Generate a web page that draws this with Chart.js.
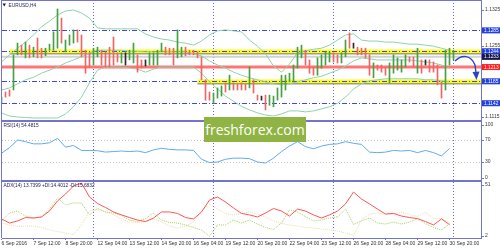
<!DOCTYPE html>
<html>
<head>
<meta charset="utf-8">
<title>EURUSD,H4</title>
<script src="https://cdn.jsdelivr.net/npm/chart.js@4.4.1/dist/chart.umd.min.js"></script>
<style>
  html, body { margin: 0; padding: 0; background: #fff; }
  #wrap { position: relative; width: 500px; height: 250px; overflow: hidden; background: #fff; }
  #wrap canvas { position: absolute; left: 0; }
  .sep { position: absolute; left: 1px; width: 481px; height: 2px; background: #7474cf; }
  #logo { position: absolute; left: 204px; top: 117px; width: 102px; height: 25px; background: #8fb443;
          color: #fff; font: 14px "Open Sans", sans-serif; line-height: 25px; text-align: center; }
  #arrow { position: absolute; left: 0; top: 0; }
</style>
</head>
<body>
<div id="wrap">
  <canvas id="priceChart" width="500" height="120" style="top:0"></canvas>
  <canvas id="rsiChart" width="500" height="58" style="top:122px"></canvas>
  <canvas id="adxChart" width="500" height="68" style="top:182px"></canvas>
  <div class="sep" style="top:120px"></div>
  <div class="sep" style="top:180px"></div>
  <div id="logo">freshforex.com</div>
  <svg id="arrow" width="500" height="250">
    <path d="M455 61 C 462 54, 471 55, 475 65 L 476 73" fill="none" stroke="#2a44c8" stroke-width="1.4"/>
    <path d="M472.5 72 L 476.5 80 L 479.5 71.5 Z" fill="#2a44c8"/>
  </svg>
</div>
<script>
const FONT = '"Liberation Sans", Arial, sans-serif';
const FRAME = '#7474cf';

// H4 bars, 6 Sep 04:00 .. 3 Oct 00:00
const barHigh = [
  1.1154, 1.1164, 1.1168, 1.1237, 1.1260, 1.1256, 1.1262, 1.1256, 1.1252, 1.1270,
  1.1250, 1.1250, 1.1258, 1.1282, 1.1327, 1.1309, 1.1266, 1.1276, 1.1286, 1.1286,
  1.1276, 1.1246, 1.1241, 1.1250, 1.1252, 1.1246, 1.1243, 1.1252, 1.1272, 1.1241,
  1.1241, 1.1241, 1.1246, 1.1260, 1.1237, 1.1227, 1.1227, 1.1241, 1.1241, 1.1246,
  1.1260, 1.1252, 1.1250, 1.1250, 1.1286, 1.1252, 1.1252, 1.1246, 1.1246, 1.1243,
  1.1233, 1.1188, 1.1164, 1.1162, 1.1172, 1.1176, 1.1182, 1.1197, 1.1182, 1.1180,
  1.1182, 1.1180, 1.1213, 1.1188, 1.1158, 1.1156, 1.1158, 1.1158, 1.1156, 1.1172,
  1.1197, 1.1197, 1.1201, 1.1217, 1.1252, 1.1256, 1.1246, 1.1227, 1.1213, 1.1231,
  1.1237, 1.1243, 1.1243, 1.1241, 1.1237, 1.1241, 1.1266, 1.1280, 1.1260, 1.1252,
  1.1250, 1.1250, 1.1237, 1.1221, 1.1217, 1.1217, 1.1213, 1.1221, 1.1237, 1.1231,
  1.1227, 1.1237, 1.1233, 1.1233, 1.1250, 1.1227, 1.1227, 1.1227, 1.1223, 1.1217,
  1.1184, 1.1246, 1.1250, 1.1246
];
const barLow = [
  1.1142, 1.1154, 1.1156, 1.1168, 1.1237, 1.1237, 1.1231, 1.1231, 1.1233, 1.1231,
  1.1231, 1.1235, 1.1246, 1.1246, 1.1250, 1.1260, 1.1243, 1.1256, 1.1260, 1.1262,
  1.1233, 1.1201, 1.1213, 1.1217, 1.1233, 1.1217, 1.1213, 1.1213, 1.1217, 1.1223,
  1.1221, 1.1217, 1.1227, 1.1221, 1.1203, 1.1211, 1.1215, 1.1217, 1.1217, 1.1217,
  1.1243, 1.1237, 1.1237, 1.1217, 1.1231, 1.1233, 1.1235, 1.1237, 1.1237, 1.1231,
  1.1188, 1.1148, 1.1148, 1.1142, 1.1152, 1.1156, 1.1164, 1.1168, 1.1168, 1.1168,
  1.1168, 1.1168, 1.1172, 1.1162, 1.1148, 1.1148, 1.1129, 1.1138, 1.1135, 1.1148,
  1.1154, 1.1168, 1.1184, 1.1184, 1.1211, 1.1231, 1.1217, 1.1201, 1.1197, 1.1197,
  1.1211, 1.1217, 1.1223, 1.1223, 1.1221, 1.1221, 1.1233, 1.1250, 1.1250, 1.1237,
  1.1237, 1.1231, 1.1197, 1.1192, 1.1207, 1.1203, 1.1197, 1.1182, 1.1201, 1.1207,
  1.1203, 1.1213, 1.1223, 1.1213, 1.1201, 1.1201, 1.1217, 1.1203, 1.1203, 1.1178,
  1.1152, 1.1168, 1.1217, 1.1227
];
// 1 = up bar, -1 = down bar, 0 = unchanged
const barDir = [
  1, -1, -1, 1, 1, -1, 1, -1, 1, -1,
  -1, 1, 1, 1, 1, -1, 1, 1, 1, -1,
  -1, -1, -1, 1, 1, -1, -1, -1, -1, -1,
  1, 0, 1, 1, -1, -1, 0, 1, 1, 1,
  1, -1, -1, -1, 1, 1, -1, -1, -1, -1,
  -1, -1, -1, 1, 1, 1, -1, 1, -1, -1,
  -1, -1, 1, -1, -1, 0, -1, 1, 1, 1,
  1, 1, 1, 1, 1, 1, -1, -1, -1, 1,
  1, 1, 1, -1, -1, 1, 1, -1, 0, -1,
  -1, -1, -1, 1, -1, -1, -1, 1, 1, 1,
  1, 1, -1, -1, 1, -1, 0, -1, -1, -1,
  -1, 1, 1, 1
];

// indicators, read every 2nd bar
const SAMPLE_STEP = 2;
const bbUpper = [
  1.1223, 1.1237, 1.1250, 1.1262, 1.1276, 1.1292, 1.1303, 1.1315, 1.1323, 1.1325,
  1.1319, 1.1309, 1.1290, 1.1288, 1.1288, 1.1288, 1.1288, 1.1288, 1.1278, 1.1272,
  1.1268, 1.1266, 1.1262, 1.1260, 1.1256, 1.1264, 1.1276, 1.1284, 1.1286, 1.1284,
  1.1282, 1.1266, 1.1254, 1.1239, 1.1215, 1.1203, 1.1219, 1.1241, 1.1245, 1.1248,
  1.1250, 1.1256, 1.1266, 1.1276, 1.1278, 1.1266, 1.1264, 1.1264, 1.1262, 1.1262,
  1.1260, 1.1258, 1.1258, 1.1256, 1.1254, 1.1250, 1.1246
];
const bbMiddle = [
  1.1168, 1.1172, 1.1180, 1.1188, 1.1193, 1.1201, 1.1207, 1.1213, 1.1221, 1.1227,
  1.1233, 1.1241, 1.1246, 1.1246, 1.1246, 1.1246, 1.1244, 1.1244, 1.1243, 1.1243,
  1.1243, 1.1243, 1.1243, 1.1243, 1.1239, 1.1235, 1.1225, 1.1217, 1.1211, 1.1203,
  1.1197, 1.1192, 1.1188, 1.1184, 1.1180, 1.1178, 1.1180, 1.1184, 1.1188, 1.1192,
  1.1195, 1.1201, 1.1207, 1.1215, 1.1225, 1.1231, 1.1229, 1.1227, 1.1227, 1.1227,
  1.1227, 1.1227, 1.1225, 1.1223, 1.1221, 1.1217, 1.1211
];
const bbLower = [
  1.1123, 1.1117, 1.1115, 1.1114, 1.1113, 1.1113, 1.1113, 1.1113, 1.1121, 1.1135,
  1.1154, 1.1182, 1.1207, 1.1213, 1.1213, 1.1213, 1.1211, 1.1209, 1.1203, 1.1209,
  1.1213, 1.1213, 1.1213, 1.1213, 1.1213, 1.1201, 1.1184, 1.1170, 1.1156, 1.1146,
  1.1136, 1.1129, 1.1123, 1.1119, 1.1117, 1.1121, 1.1127, 1.1127, 1.1125, 1.1127,
  1.1131, 1.1135, 1.1142, 1.1154, 1.1170, 1.1180, 1.1186, 1.1188, 1.1190, 1.1190,
  1.1190, 1.1190, 1.1190, 1.1188, 1.1188, 1.1186, 1.1184
];
const rsiValues = [
  46, 56, 70, 67, 63, 63, 65, 73, 57, 60,
  51, 51, 50.5, 48, 49, 50, 49, 50, 47, 52,
  55, 53, 52, 52, 51, 35, 29, 30, 35, 37,
  37, 36, 30, 28, 37, 49, 59, 67, 58, 54,
  59, 62, 63, 67, 64, 62, 48, 47, 48, 51,
  50, 51, 47, 51, 47, 41, 54.5
];
const adxValues = [
  18.7, 15.1, 16.9, 19.9, 19.5, 20.4, 25.6, 34.4, 40.5, 47.5,
  50.0, 37.9, 32.2, 28.7, 24.8, 22.2, 19.9, 17.7, 16.4, 19.5,
  24.8, 24.8, 23.5, 19.9, 18.7, 24.8, 35.2, 37.9, 33.5, 28.3,
  23.5, 22.2, 20.4, 23.9, 27.8, 25.6, 21.2, 27.3, 25.6, 22.2,
  19.5, 22.2, 25.6, 31.8, 42.2, 36.1, 31.8, 27.3, 23.0, 23.5,
  21.2, 19.9, 19.0, 16.4, 13.4, 18.7, 13.7
];
const plusDI = [
  16.9, 23.9, 25.6, 21.2, 19.5, 20.4, 27.3, 37.0, 30.9, 32.6,
  32.6, 22.2, 27.8, 24.8, 23.9, 21.7, 17.7, 16.4, 19.0, 23.9,
  17.7, 15.6, 15.1, 13.4, 11.2, 9.0, 3.5, 13.4, 13.4, 17.7,
  15.1, 17.7, 14.2, 11.2, 9.4, 15.1, 26.5, 24.8, 20.8, 16.9,
  17.7, 19.5, 20.4, 27.3, 13.8, 16.9, 19.5, 15.1, 14.2, 16.0,
  14.2, 16.0, 18.7, 14.7, 11.2, 9.0, 14.4
];
const minusDI = [
  15.1, 13.4, 12.1, 12.5, 12.5, 11.2, 9.0, 7.6, 6.3, 5.0,
  13.4, 25.6, 27.3, 24.8, 22.5, 18.7, 16.0, 15.6, 16.0, 18.7,
  16.0, 12.5, 10.8, 12.1, 16.0, 25.6, 31.8, 27.3, 23.5, 22.2,
  23.5, 24.8, 23.0, 20.4, 16.9, 14.7, 13.4, 12.5, 11.2, 10.8,
  9.9, 9.0, 8.1, 6.3, 4.5, 17.7, 23.0, 23.9, 22.5, 23.0,
  24.8, 22.5, 20.8, 24.3, 19.0, 19.0, 15.7
];

// time axis
const timeLabels = [
  '6 Sep 2016', '7 Sep 12:00', '8 Sep 20:00', '12 Sep 04:00', '13 Sep 12:00',
  '14 Sep 20:00', '16 Sep 04:00', '19 Sep 12:00', '20 Sep 20:00', '22 Sep 04:00',
  '23 Sep 12:00', '26 Sep 20:00', '28 Sep 04:00', '29 Sep 12:00', '30 Sep 20:00'
];
const LABEL_STEP = 8;
const weekStartBars = [23, 53, 83, 113];

// price axis / chart objects
const priceTicks = [1.1325, 1.1255, 1.1115];
const tagPrices = [1.1285, 1.1244, 1.1233, 1.1213, 1.1185, 1.1142];
const tagColors = ['#2340d8', '#2340d8', '#16164a', '#ff1f1f', '#2340d8', '#2340d8'];
const levelLines = [1.1285, 1.1244, 1.1185, 1.1142];
const zonePrices = [1.1244, 1.1185];
const zoneStartBars = [2, 49];
const redLevel = 1.1213;
const greyLevel = 1.1233;
const rsiTicks = [100, 70, 30, 0];
const rsiLevels = [70, 30];
const adxTicks = [51, 2];

// x range: 4 px per bar across the 479 px plot
const X_MIN = 0.125, X_MAX = 119.875;
const PRICE_MIN = 1.11091, PRICE_MAX = 1.13446;

const sampled = arr => arr.map((v, k) => ({ x: k * SAMPLE_STEP, y: v }));

function xScale(display) {
  return { type: 'linear', min: X_MIN, max: X_MAX, offset: false, display: display, grid: { offset: false } };
}

function baseOptions(yMin, yMax) {
  return {
    responsive: false,
    animation: false,
    events: [],
    layout: { padding: { left: 2, right: 19, top: 0, bottom: 0 } },
    plugins: { legend: { display: false }, tooltip: { enabled: false } },
    scales: {
      x: xScale(false),
      y: { type: 'linear', min: yMin, max: yMax, display: false }
    }
  };
}

function hLine(ctx, y, x0, x1, color, width, dash) {
  ctx.save();
  ctx.strokeStyle = color;
  ctx.lineWidth = width;
  ctx.setLineDash(dash || []);
  ctx.beginPath();
  ctx.moveTo(x0, y);
  ctx.lineTo(x1, y);
  ctx.stroke();
  ctx.restore();
}

function drawWeekLines(chart) {
  const { ctx, chartArea: a, scales: { x } } = chart;
  ctx.save();
  ctx.strokeStyle = '#6a6ac4';
  ctx.lineWidth = 1;
  ctx.setLineDash([1, 2]);
  weekStartBars.forEach(b => {
    const px = x.getPixelForValue(b);
    ctx.beginPath();
    ctx.moveTo(px, a.top);
    ctx.lineTo(px, a.bottom);
    ctx.stroke();
  });
  ctx.restore();
}

function drawFrame(chart, top) {
  const { ctx, chartArea: a } = chart;
  ctx.save();
  ctx.strokeStyle = FRAME;
  ctx.lineWidth = 1;
  ctx.beginPath();
  ctx.moveTo(1.5, a.top);
  ctx.lineTo(1.5, a.bottom);
  ctx.moveTo(481.5, a.top);
  ctx.lineTo(481.5, a.bottom);
  if (top) {
    ctx.moveTo(1, 0.5);
    ctx.lineTo(482, 0.5);
  }
  ctx.stroke();
  ctx.restore();
}

function axisLabel(chart, value, text) {
  const { ctx, chartArea: a, scales: { y } } = chart;
  let py = y.getPixelForValue(value);
  py = Math.min(Math.max(py, a.top + 2.5), a.bottom - 2.5);
  ctx.save();
  ctx.strokeStyle = FRAME;
  ctx.beginPath();
  ctx.moveTo(481, Math.round(py) + 0.5);
  ctx.lineTo(484, Math.round(py) + 0.5);
  ctx.stroke();
  ctx.fillStyle = '#3a3a3a';
  ctx.font = '5px ' + FONT;
  ctx.textBaseline = 'middle';
  ctx.fillText(text, 485, py);
  ctx.restore();
}

function header(ctx, text, x, y) {
  ctx.save();
  ctx.fillStyle = '#1c1c50';
  ctx.font = '4.8px ' + FONT;
  ctx.textBaseline = 'middle';
  ctx.fillText(text, x, y);
  ctx.restore();
}

// ---------- price panel ----------
const priceObjects = {
  id: 'priceObjects',
  beforeDatasetsDraw(chart) {
    const { ctx, chartArea: a, scales: { x, y } } = chart;
    drawWeekLines(chart);
    hLine(ctx, y.getPixelForValue(greyLevel), a.left, a.right, '#d2d2d2', 2);
    hLine(ctx, y.getPixelForValue(redLevel), a.left, a.right, '#ff7474', 3);
    zonePrices.forEach((p, i) => {
      const py = y.getPixelForValue(p);
      const x0 = x.getPixelForValue(zoneStartBars[i]);
      hLine(ctx, py + 2.5, x0, a.right, '#9c9c9c', 1.5);
      hLine(ctx, py, x0, a.right, '#ffff00', 3.5);
    });
    levelLines.forEach(p => {
      hLine(ctx, Math.round(y.getPixelForValue(p)) + 0.5, a.left, a.right, '#4646dc', 1, [5, 2, 1, 2]);
    });
  },
  afterDraw(chart) {
    const { ctx, scales: { y } } = chart;
    drawFrame(chart, true);
    priceTicks.forEach(v => axisLabel(chart, v, v.toFixed(4)));
    ctx.save();
    ctx.font = '4.8px ' + FONT;
    ctx.textBaseline = 'middle';
    tagPrices.forEach((p, i) => {
      const py = y.getPixelForValue(p);
      ctx.fillStyle = tagColors[i];
      ctx.fillRect(482, py - 3, 18, 6);
      ctx.fillStyle = '#ffffff';
      ctx.fillText(p.toFixed(4), 484, py + 0.2);
    });
    // window title with the small drop-down mark
    ctx.fillStyle = '#1c1c50';
    ctx.beginPath();
    ctx.moveTo(2.5, 3.5);
    ctx.lineTo(6, 3.5);
    ctx.lineTo(4.25, 6.5);
    ctx.closePath();
    ctx.fill();
    ctx.restore();
    header(ctx, 'EURUSD,H4', 8.5, 5.2);
  }
};

const priceOpts = baseOptions(PRICE_MIN, PRICE_MAX);
priceOpts.scales.x = xScale(false);

new Chart(document.getElementById('priceChart'), {
  type: 'bar',
  data: {
    datasets: [
      {
        type: 'bar',
        data: barHigh.map((h, i) => ({ x: i, y: [barLow[i], h] })),
        backgroundColor: barDir.map(d => d > 0 ? '#43a043' : d < 0 ? '#f06464' : '#2a2a2a'),
        borderWidth: 0,
        barThickness: 1,
        clip: { left: 1, top: 0, right: 0, bottom: 0 },
        order: 0
      },
      { type: 'line', data: sampled(bbUpper), borderColor: '#8ed3a8', borderWidth: 1, pointRadius: 0, order: 1 },
      { type: 'line', data: sampled(bbMiddle), borderColor: '#8ed3a8', borderWidth: 1, pointRadius: 0, order: 1 },
      { type: 'line', data: sampled(bbLower), borderColor: '#8ed3a8', borderWidth: 1, pointRadius: 0, order: 1 }
    ]
  },
  options: priceOpts,
  plugins: [priceObjects]
});

// ---------- RSI panel ----------
const rsiDecor = {
  id: 'rsiDecor',
  beforeDatasetsDraw(chart) {
    const { ctx, chartArea: a, scales: { y } } = chart;
    drawWeekLines(chart);
    rsiLevels.forEach(v => {
      hLine(ctx, Math.round(y.getPixelForValue(v)) + 0.5, a.left, a.right, '#c4c4c4', 1, [1, 2]);
    });
  },
  afterDraw(chart) {
    drawFrame(chart, false);
    rsiTicks.forEach(v => axisLabel(chart, v, String(v)));
    header(chart.ctx, 'RSI(14) 54.4815', 3.5, 3.6);
  }
};

new Chart(document.getElementById('rsiChart'), {
  type: 'line',
  data: {
    datasets: [
      { data: sampled(rsiValues), borderColor: '#5eaaf2', borderWidth: 1, pointRadius: 0 }
    ]
  },
  options: baseOptions(-2.73, 102.73),
  plugins: [rsiDecor]
});

// ---------- ADX panel ----------
const adxDecor = {
  id: 'adxDecor',
  beforeDatasetsDraw(chart) {
    drawWeekLines(chart);
  },
  afterDraw(chart) {
    drawFrame(chart, false);
    adxTicks.forEach(v => axisLabel(chart, v, String(v)));
    header(chart.ctx, 'ADX(14) 13.7399 +DI:14.4012 -DI:15.6832', 3.5, 3.4);
  }
};

const adxOpts = baseOptions(2, 51);
adxOpts.scales.x = {
  type: 'linear',
  min: X_MIN,
  max: X_MAX,
  offset: false,
  position: 'bottom',
  afterBuildTicks(s) { s.ticks = timeLabels.map((_, j) => ({ value: j * LABEL_STEP })); },
  afterFit(s) { s.height = 12; },
  grid: { display: true, drawOnChartArea: false, drawTicks: true, tickLength: 2, color: FRAME, offset: false },
  border: { display: true, color: FRAME, width: 1 },
  ticks: {
    autoSkip: false,
    maxRotation: 0,
    minRotation: 0,
    align: 'start',
    padding: 1,
    color: '#303030',
    font: { size: 5, family: FONT },
    callback: (v, idx) => timeLabels[idx]
  }
};

new Chart(document.getElementById('adxChart'), {
  type: 'line',
  data: {
    datasets: [
      { data: sampled(adxValues), borderColor: '#ff5555', borderWidth: 1, pointRadius: 0 },
      { data: sampled(plusDI), borderColor: '#a6d05a', borderWidth: 1, borderDash: [1, 1], pointRadius: 0 },
      { data: sampled(minusDI), borderColor: '#f2d7a6', borderWidth: 1, borderDash: [1, 1], pointRadius: 0 }
    ]
  },
  options: adxOpts,
  plugins: [adxDecor]
});
</script>
</body>
</html>
